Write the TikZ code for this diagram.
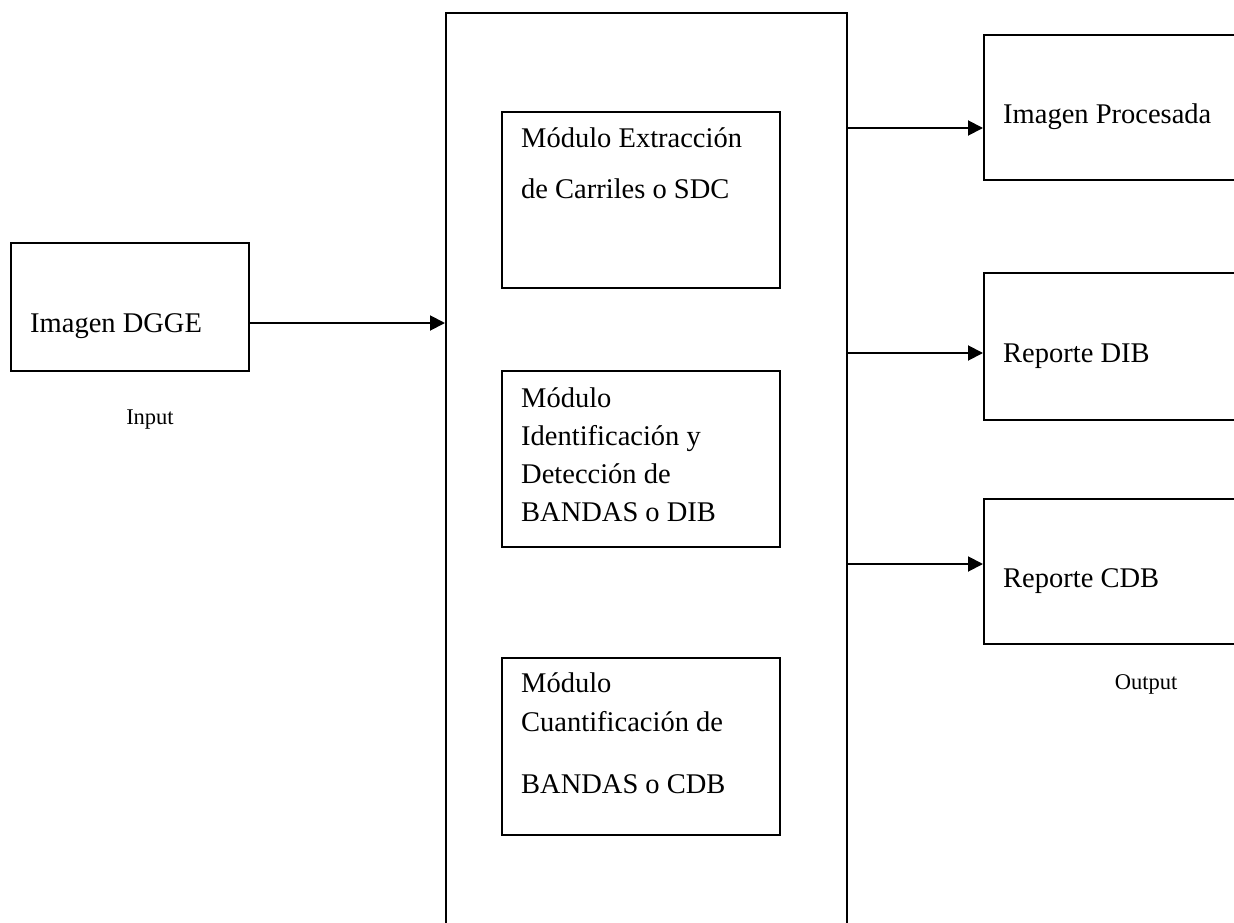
\documentclass[tikz,border=0pt]{standalone}
\usepackage{fontspec}
\setmainfont{Liberation Serif}
\usetikzlibrary{arrows.meta}
\begin{document}
\begin{tikzpicture}[x=1pt,y=-1pt,
  box/.style={draw,line width=1.9pt,inner sep=0pt,anchor=north west},
  txt/.style={inner sep=0pt,anchor=base west,align=left,font=\fontsize{28.5}{38}\selectfont},
  small/.style={inner sep=0pt,anchor=base,font=\fontsize{22.5}{27}\selectfont},
  arr/.style={line width=1.9pt,-{Triangle[length=15pt,width=15pt]}}]
\clip (0,0) rectangle (1234,923);
\fill[white] (0,0) rectangle (1234,923);
% boxes
\node[box,minimum width=238pt,minimum height=128pt] (in) at (10,242) {};
\node[box,minimum width=401pt,minimum height=1000pt] (proc) at (445,12) {};
\node[box,minimum width=278pt,minimum height=176pt] (m1) at (501,111) {};
\node[box,minimum width=278pt,minimum height=176pt] (m2) at (501,370) {};
\node[box,minimum width=278pt,minimum height=177pt] (m3) at (501,657) {};
\node[box,minimum width=300pt,minimum height=145pt] (r1) at (983,34) {};
\node[box,minimum width=300pt,minimum height=147pt] (r2) at (983,272) {};
\node[box,minimum width=300pt,minimum height=145pt] (r3) at (983,498) {};
% texts
\node[txt] (tin) at (30,332) {Imagen DGGE};
\node[small] (lin) at (150,424) {Input};
\node[txt] (t1) at (521,198) {Módulo Extracción\\[13pt]de Carriles o SDC};
\node[txt] (t2) at (521,521) {Módulo\\Identificación y\\Detección de\\BANDAS o DIB};
\node[txt] (t3) at (521,793) {Módulo\\[1pt]Cuantificación de\\[24pt]BANDAS o CDB};
\node[txt] (o1) at (1003,124) {Imagen Procesada};
\node[txt] (o2) at (1003,362) {Reporte DIB};
\node[txt] (o3) at (1003,587) {Reporte CDB};
\node[small] (lout) at (1146,689) {Output};
% connectors
\draw[arr] (in.east |- 0,323) -- (proc.west |- 0,323);
\draw[arr] (proc.east |- 0,128) -- (r1.west |- 0,128);
\draw[arr] (proc.east |- 0,353) -- (r2.west |- 0,353);
\draw[arr] (proc.east |- 0,564) -- (r3.west |- 0,564);
\end{tikzpicture}
\end{document}
